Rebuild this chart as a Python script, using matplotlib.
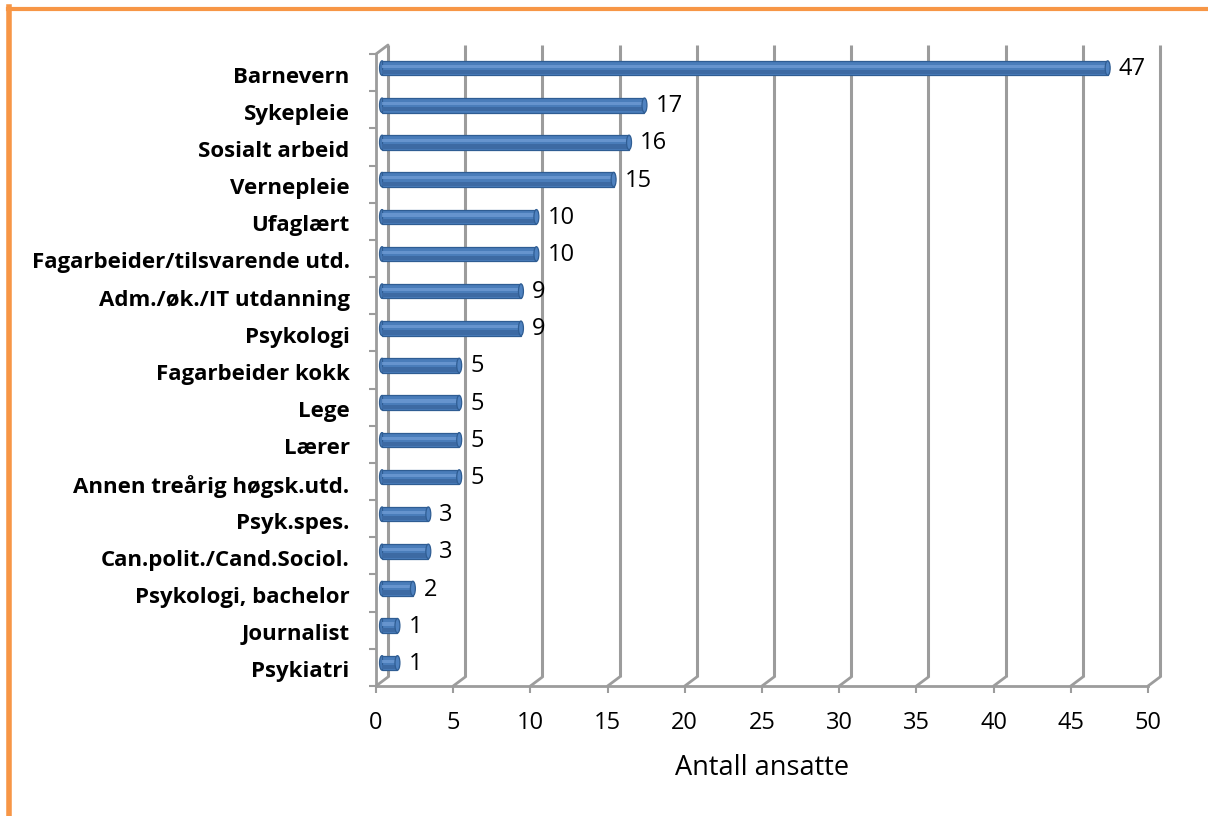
import matplotlib
matplotlib.use('Agg')
import matplotlib.pyplot as plt
from matplotlib.transforms import Affine2D
from matplotlib.patches import Ellipse
from matplotlib.lines import Line2D
import numpy as np

categories = ["Barnevern", "Sykepleie", "Sosialt arbeid", "Vernepleie", "Ufaglært",
              "Fagarbeider/tilsvarende utd.", "Adm./øk./IT utdanning", "Psykologi",
              "Fagarbeider kokk", "Lege", "Lærer", "Annen treårig høgsk.utd.",
              "Psyk.spes.", "Can.polit./Cand.Sociol.", "Psykologi, bachelor",
              "Journalist", "Psykiatri"]
values = [47, 17, 16, 15, 10, 10, 9, 9, 5, 5, 5, 5, 3, 3, 2, 1, 1]
x_ticks = list(range(0, 51, 5))
x_label = "Antall ansatte"

plt.rcParams['font.family'] = ['Open Sans', 'DejaVu Sans']

W, H = 1208, 816
fig = plt.figure(figsize=(W / 100, H / 100), dpi=100)
ax = fig.add_axes([376 / W, 130 / H, 772 / W, 632 / H])
n = len(categories)
ypos = np.arange(n)[::-1]

GRID = '#9c9c9c'
DX, DY = 12, 9
back = ax.transData + Affine2D().translate(DX, DY)
mid = ax.transData + Affine2D().translate(DX / 2, DY / 2)

ax.set_xlim(0, 50)
ax.set_ylim(-0.5, n - 0.5)

# back wall gridlines and floor diagonals
for t in x_ticks:
    ax.plot([t, t], [-0.5, n - 0.5], transform=back, color=GRID, lw=2.2,
            clip_on=False, zorder=1, solid_capstyle='butt')
    ax.annotate('', xy=(t, -0.5), xytext=(DX, DY), textcoords='offset pixels',
                arrowprops=dict(arrowstyle='-', color=GRID, lw=2.0,
                                shrinkA=0, shrinkB=0), annotation_clip=False)
# left wall top diagonal
ax.annotate('', xy=(0, n - 0.5), xytext=(DX, DY), textcoords='offset pixels',
            arrowprops=dict(arrowstyle='-', color=GRID, lw=2.0,
                            shrinkA=0, shrinkB=0), annotation_clip=False)

# bars (cylinders)
BH = 0.39
ax.barh(ypos, values, height=BH, transform=mid, color='#4A7DBA',
        edgecolor='#2F5D93', linewidth=0.9, zorder=3)
ax.barh(ypos - BH * 0.28, values, height=BH * 0.3, transform=mid,
        color='#3D6AA3', linewidth=0, zorder=3.1)
ax.barh(ypos + BH * 0.12, values, height=BH * 0.22, transform=mid,
        color='#6E9BD4', linewidth=0, zorder=3.2, alpha=0.8)
for v, yy in zip(values, ypos):
    ax.add_patch(Ellipse((v, yy), width=0.32, height=BH, transform=mid,
                         facecolor='#4F82C0', edgecolor='#2F5D93', lw=0.9, zorder=3.5))
    ax.add_patch(Ellipse((0, yy), width=0.32, height=BH, transform=mid,
                         facecolor='#4A7DBA', edgecolor='#2F5D93', lw=0.9, zorder=2.9))
    ax.annotate(str(v), xy=(v, yy), xycoords=mid, xytext=(11, -1),
                textcoords='offset pixels', ha='left', va='center',
                fontsize=17, color='black', zorder=5)

# axes styling
for s in ['top', 'right']:
    ax.spines[s].set_visible(False)
for s in ['left', 'bottom']:
    ax.spines[s].set_color(GRID)
    ax.spines[s].set_linewidth(2.0)
ax.set_facecolor('none')

ax.set_xticks(x_ticks)
ax.set_xticklabels([str(t) for t in x_ticks], fontsize=17)
ax.tick_params(axis='x', length=5, width=1.5, color=GRID, pad=13)

ax.set_yticks(ypos)
ax.set_yticklabels(categories, fontsize=16, fontweight='bold')
ax.tick_params(axis='y', which='major', length=0, pad=19)
for lbl in ax.get_yticklabels():
    lbl.set_transform(lbl.get_transform() + Affine2D().translate(0, -2))
ax.set_yticks(np.arange(-0.5, n, 1.0), minor=True)
ax.tick_params(axis='y', which='minor', length=5, width=1.5, color=GRID)

ax.set_xlabel(x_label, fontsize=19.5, labelpad=14)

# orange frame (top and left edges)
ORANGE = '#F79646'
fig.add_artist(Line2D([8 / W, 1.0], [1 - 8.5 / H, 1 - 8.5 / H], color=ORANGE,
                      lw=3, transform=fig.transFigure))
fig.add_artist(Line2D([8.5 / W, 8.5 / W], [0, 1 - 7 / H], color=ORANGE,
                      lw=4, transform=fig.transFigure))

fig.savefig('out.png', dpi=100)
